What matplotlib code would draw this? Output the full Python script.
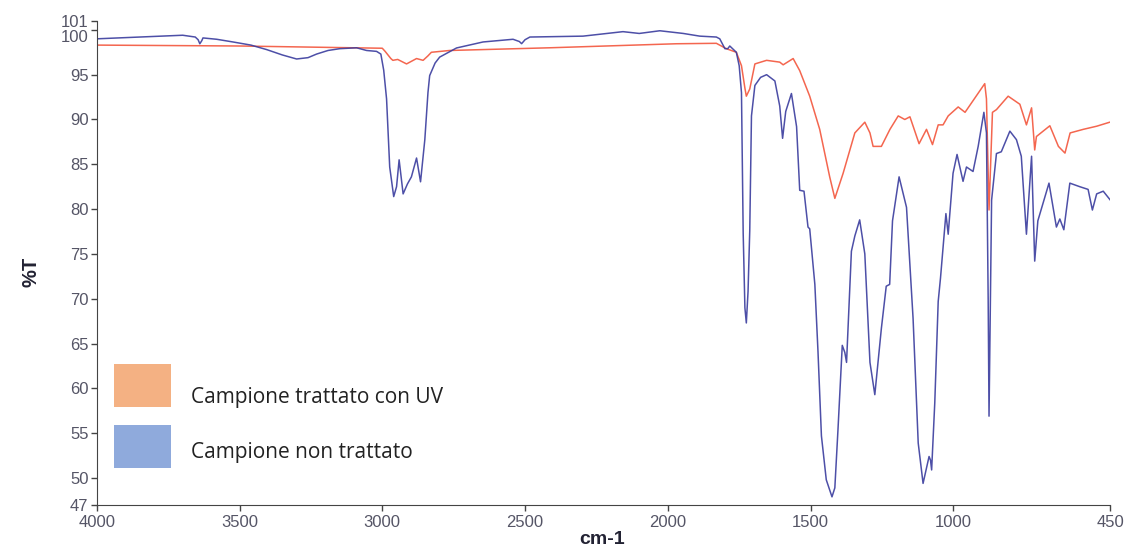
import matplotlib
matplotlib.use('Agg')
import matplotlib.pyplot as plt
from matplotlib.patches import Rectangle
from matplotlib.transforms import ScaledTranslation

# spectrum of the untreated sample (wavenumber, %T)
blue_wn = [4000, 3850, 3699, 3655, 3645, 3639, 3632, 3628, 3580, 3523, 3460, 3405, 3350, 3300,
           3260, 3230, 3190, 3149, 3090, 3055, 3020, 3005, 2995, 2985, 2974, 2960, 2950, 2941,
           2927, 2912, 2898, 2880, 2866, 2851, 2840, 2834, 2815, 2799, 2740, 2647, 2542, 2520,
           2512, 2500, 2483, 2297, 2157, 2100, 2028, 1946, 1888, 1830, 1818, 1800, 1790, 1783,
           1760, 1750, 1742, 1736, 1730, 1725, 1719, 1713, 1707, 1695, 1675, 1654, 1625, 1608,
           1598, 1587, 1567, 1549, 1538, 1523, 1509, 1503, 1485, 1474, 1462, 1445, 1425, 1415,
           1404, 1389, 1380, 1374, 1357, 1345, 1328, 1310, 1292, 1275, 1252, 1235, 1223, 1213,
           1190, 1164, 1141, 1123, 1106, 1085, 1080, 1076, 1065, 1053, 1045, 1026, 1018, 1001,
           987, 966, 954, 931, 913, 893, 884, 878, 875, 870, 866, 849, 832, 802, 779, 762,
           744, 726, 715, 704, 665, 639, 627, 613, 592, 557, 528, 513, 498, 475, 450]
blue_t = [99.0, 99.2, 99.4, 99.2, 98.9, 98.45, 98.8, 99.1, 98.95, 98.65, 98.3, 97.8, 97.2, 96.75,
          96.9, 97.3, 97.7, 97.9, 98.0, 97.7, 97.6, 97.3, 95.5, 92.3, 84.7, 81.4, 82.5, 85.5,
          81.7, 82.8, 83.6, 85.7, 83.05, 87.75, 93.0, 94.9, 96.3, 96.96, 97.98, 98.65, 98.95, 98.7,
          98.46, 98.9, 99.2, 99.3, 99.8, 99.6, 99.9, 99.6, 99.3, 99.2, 99.0, 97.9, 97.9, 98.2,
          97.5, 96.0, 93.0, 77.3, 69.0, 67.3, 70.8, 77.6, 90.4, 93.8, 94.7, 95.0, 94.3, 91.5,
          87.9, 90.9, 92.9, 89.2, 82.1, 82.0, 78.0, 77.8, 71.6, 64.1, 54.7, 49.8, 47.9, 48.9,
          55.4, 64.8, 64.0, 62.9, 75.3, 77.0, 78.8, 75.0, 62.9, 59.3, 66.7, 71.4, 71.6, 78.7,
          83.6, 80.2, 67.8, 53.9, 49.4, 52.4, 52.0, 50.9, 58.4, 69.7, 72.3, 79.5, 77.2, 84.0,
          86.1, 83.1, 84.7, 84.2, 87.0, 90.8, 88.5, 70.0, 56.9, 70.0, 81.0, 86.2, 86.4, 88.7, 87.75, 85.9,
          77.2, 85.9, 74.2, 78.7, 82.9, 78.0, 78.9, 77.7, 82.9, 82.5, 82.2, 79.9, 81.7, 82.0, 81.0]

# spectrum of the UV treated sample
red_wn = [4000, 3500, 3000, 2990, 2970, 2963, 2946, 2915, 2880, 2857, 2840, 2828, 2764, 2414,
          1970, 1830, 1795, 1760, 1742, 1730, 1725, 1713, 1695, 1654, 1608, 1596, 1561, 1538,
          1503, 1468, 1433, 1415, 1386, 1345, 1310, 1292, 1281, 1252, 1222, 1193, 1170, 1152,
          1120, 1094, 1073, 1053, 1036, 1018, 983, 959, 890, 884, 875, 863, 849, 808, 767,
          744, 726, 715, 709, 662, 632, 609, 591, 545, 498, 452]
red_t = [98.3, 98.2, 97.95, 97.6, 96.8, 96.6, 96.7, 96.2, 96.8, 96.6, 97.1, 97.5, 97.7, 98.0,
         98.45, 98.5, 97.9, 97.5, 96.0, 93.5, 92.6, 93.4, 96.2, 96.6, 96.4, 96.1, 96.8, 95.45,
         92.6, 88.9, 83.6, 81.2, 84.0, 88.5, 89.7, 88.5, 87.0, 87.0, 88.9, 90.4, 90.0, 90.3,
         87.3, 88.9, 87.2, 89.4, 89.4, 90.4, 91.4, 90.8, 94.0, 92.3, 79.9, 90.8, 91.1, 92.6, 91.7,
         89.4, 91.3, 86.6, 88.1, 89.3, 87.0, 86.25, 88.5, 88.9, 89.25, 89.7]

x_ticks = [4000, 3500, 3000, 2500, 2000, 1500, 1000, 450]
y_ticks = [47, 50, 55, 60, 65, 70, 75, 80, 85, 90, 95, 100, 101]
labels = ['Campione trattato con UV', 'Campione non trattato']
legend_colors = ['#f4b183', '#8faadc']

fig = plt.figure(figsize=(11.25, 5.5), dpi=100)
ax = fig.add_axes([0.086, 0.082, 0.901, 0.880])

ax.plot(red_wn, red_t, color='#f4664f', lw=1.1)
ax.plot(blue_wn, blue_t, color='#3a3c9e', lw=1.1, alpha=0.9)

ax.set_xlim(4000, 450)
ax.set_ylim(47, 101)
ax.set_xticks(x_ticks)
ax.set_yticks(y_ticks)
ax.tick_params(colors='#444444', labelcolor='#555566', labelsize=12, length=4, width=1)
ax.tick_params(axis='y', pad=2)
ax.tick_params(axis='x', pad=3)
for lab in ax.get_xticklabels() + ax.get_yticklabels():
    lab.set_fontfamily('Liberation Sans')
# the 100 label sits a bit lower, clear of 101
lab100 = ax.get_yticklabels()[11]
lab100.set_transform(lab100.get_transform() + ScaledTranslation(0, -6 / 100, fig.dpi_scale_trans))
for s in ['top', 'right']:
    ax.spines[s].set_visible(False)
for s in ['left', 'bottom']:
    ax.spines[s].set_color('#444444')

fig.text(602 / 1125, 1 - 540 / 550, 'cm-1', fontsize=14, fontweight='bold',
         family='Liberation Sans', color='#222233', ha='center', va='center')
fig.text(31 / 1125, 1 - 272 / 550, '%T', fontsize=14.5, fontweight='bold', rotation=90,
         family='Liberation Sans', color='#222233', ha='center', va='center')

# legend: coloured blocks with text beside them
box_tops = [364, 425]
text_bases = [403, 458]
for top, base, col, lab in zip(box_tops, text_bases, legend_colors, labels):
    fig.add_artist(Rectangle((114 / 1125, 1 - (top + 43) / 550), 57 / 1125, 43 / 550,
                             transform=fig.transFigure, facecolor=col, edgecolor='none'))
    fig.text(191 / 1125, 1 - base / 550, lab, fontsize=15, family='Open Sans',
             color='#222222', va='baseline', ha='left')

fig.savefig('out.png', dpi=100)
